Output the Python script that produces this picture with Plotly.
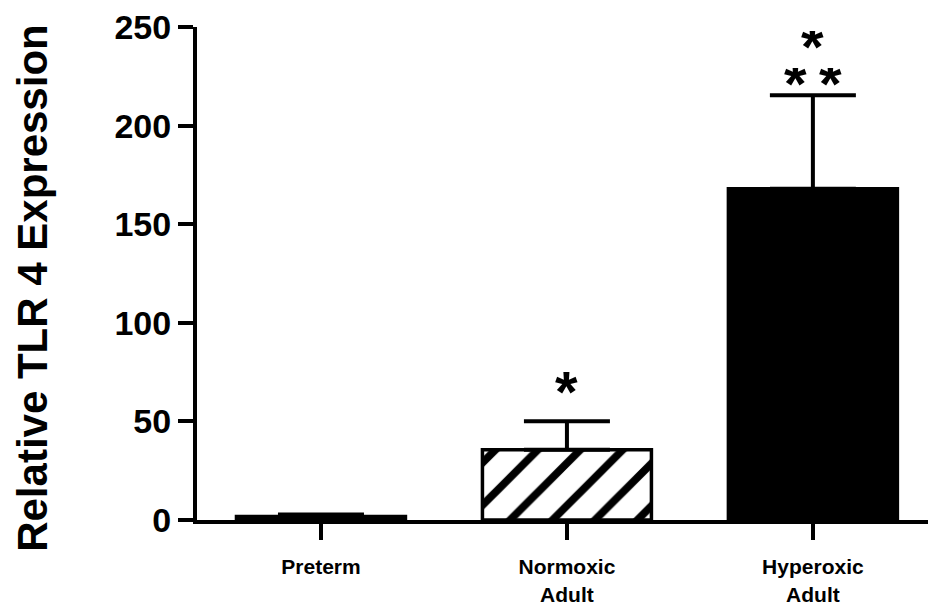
import plotly.graph_objects as go

# ---- data ----
categories = ["Preterm", "Normoxic<br>Adult", "Hyperoxic<br>Adult"]
means = [1.8, 35.6, 168.0]
sems = [1.0, 14.5, 47.4]
y_ticks = [0, 50, 100, 150, 200, 250]
sig_normoxic = ["*"]
sig_hyperoxic = ["*", "*", "*"]
y_title = "Relative TLR 4 Expression"

FONT = "Liberation Sans, Arial, Helvetica, sans-serif"
xpos = list(range(len(categories)))

fig = go.Figure()

fills = ["white", "white", "black"]
patterns = ["", "/", ""]
for i in xpos:
    fig.add_trace(go.Bar(
        x=[xpos[i]], y=[means[i]], width=0.687,
        marker=dict(color=fills[i], line=dict(color="black", width=3.5),
                    pattern=dict(shape=patterns[i], fgcolor="black", bgcolor="white",
                                 fgopacity=1, size=30, solidity=0.26) if patterns[i] else None),
        error_y=dict(type="data", array=[sems[i]], arrayminus=[0], symmetric=False,
                     color="black", thickness=4, width=43),
        showlegend=False, hoverinfo="skip",
    ))

# significance stars
fig.add_annotation(x=1, y=means[1] + sems[1], text=sig_normoxic[0], showarrow=False,
                   xref="x", yref="y", yanchor="bottom", yshift=-5,
                   font=dict(family=FONT, size=58, color="black", weight="bold"))
star_dx = [0, -0.071, 0.071]
star_row = [1, 0, 0]
for k, s in enumerate(sig_hyperoxic):
    fig.add_annotation(x=2 + star_dx[k], y=means[2] + sems[2], text=s, showarrow=False,
                       xref="x", yref="y", yanchor="bottom", yshift=-5 + 37 * star_row[k],
                       height=30, valign="middle",
                       font=dict(family=FONT, size=58, color="black", weight="bold"))

fig.add_annotation(x=-0.225, y=0.47, xref="paper", yref="paper", text=y_title,
                   textangle=-90, showarrow=False, xanchor="center", yanchor="middle",
                   font=dict(family=FONT, size=42, color="black", weight="bold"))

fig.update_layout(
    width=928, height=607,
    margin=dict(l=197, r=0, t=27, b=87),
    paper_bgcolor="white", plot_bgcolor="white",
    bargap=0.3,
)
fig.update_xaxes(
    range=[-0.504, 2.468], tickvals=xpos, ticktext=categories,
    showline=True, linecolor="black", linewidth=4,
    ticks="outside", ticklen=16, tickwidth=4, tickcolor="black",
    ticklabelstandoff=9,
    showgrid=False, zeroline=False,
    tickfont=dict(family=FONT, size=21, color="black", weight="bold"),
)
fig.update_yaxes(
    range=[0, 250], tickvals=y_ticks,
    showline=True, linecolor="black", linewidth=4,
    ticks="outside", ticklen=15, tickwidth=4, tickcolor="black",
    showgrid=False, zeroline=False,
    tickfont=dict(family=FONT, size=34, color="black", weight="bold"),
)

fig.write_html("out.html")
